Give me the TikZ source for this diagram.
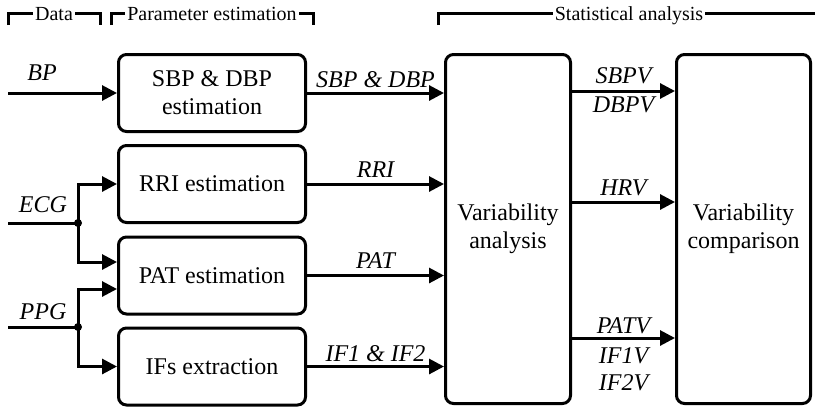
\documentclass[tikz,border=0pt]{standalone}
\usepackage{fontspec}
\setmainfont{Liberation Serif}
\usetikzlibrary{arrows.meta,calc}
\begin{document}
\begin{tikzpicture}[x=1pt,y=-1pt,
  box/.style={draw,line width=3pt,rounded corners=8pt,align=center,font=\fontsize{24}{28}\selectfont,inner sep=0pt},
  conn/.style={line width=3pt,-{Triangle[length=15pt,width=15pt]}},
  wire/.style={line width=3pt},
  lbl/.style={font=\fontsize{24}{27}\selectfont\itshape,inner sep=0pt},
  hdr/.style={font=\fontsize{20}{23}\selectfont,fill=white,inner sep=2pt,anchor=base},
  bracket/.style={line width=3pt},
  dot/.style={circle,fill,inner sep=0pt,minimum size=8pt}
]
\useasboundingbox (0,0) rectangle (815,408);

% headers
\draw[bracket] (8,25) -- (8,13.5) -- (100,13.5) -- (100,25);
\node[hdr] (hdata) at (54,20) {Data};
\draw[bracket] (111,25) -- (111,13.5) -- (313,13.5) -- (313,25);
\node[hdr] (hparam) at (212,20) {Parameter estimation};
\draw[bracket] (438,25) -- (438,13.5) -- (815,13.5);
\node[hdr] (hstat) at (629,20) {Statistical analysis};

% boxes
\node[box,minimum width=187pt,minimum height=77pt] (sbp) at (212,93) {SBP \& DBP\\estimation};
\node[box,minimum width=187pt,minimum height=77pt] (rri) at (212,184) {RRI estimation};
\node[box,minimum width=187pt,minimum height=77pt] (pat) at (212,275.5) {PAT estimation};
\node[box,minimum width=187pt,minimum height=77pt] (ifs) at (212,366.5) {IFs extraction};
\node[box,minimum width=125pt,minimum height=349pt] (va) at (508,229) {Variability\\analysis};
\node[box,minimum width=134pt,minimum height=349pt] (vc) at (743.5,229) {Variability\\comparison};

% inputs
\coordinate (bpin) at (8,93);
\coordinate (ecgin) at (8,223);
\coordinate (ppgin) at (8,327);
\node[dot] (ecgdot) at (78,223) {};
\node[dot] (ppgdot) at (78,327) {};

\node[lbl,anchor=base] (lbp) at (42,80.5) {BP};
\node[lbl,anchor=base] (lecg) at (43,212.5) {ECG};
\node[lbl,anchor=base] (lppg) at (43,319.5) {PPG};

\draw[conn] (bpin) -- (sbp.west);
\draw[wire] (ecgin) -- (ecgdot.center);
\draw[conn] (ecgdot.center) |- (rri.west);
\draw[conn] (ecgdot.center) |- ([yshift=13.5pt]pat.west);
\draw[wire] (ppgin) -- (ppgdot.center);
\draw[conn] (ppgdot.center) |- ([yshift=-13.5pt]pat.west);
\draw[conn] (ppgdot.center) |- (ifs.west);

% outputs of estimation
\draw[conn] (sbp.east) -- (sbp.east -| va.west) node[lbl,midway,anchor=base,yshift=6pt] {SBP \& DBP};
\draw[conn] (rri.east) -- (rri.east -| va.west) node[lbl,midway,anchor=base,yshift=7pt] {RRI};
\draw[conn] (pat.east) -- (pat.east -| va.west) node[lbl,midway,anchor=base,yshift=7pt] {PAT};
\draw[conn] (ifs.east) -- (ifs.east -| va.west) node[lbl,midway,anchor=base,yshift=5pt] {IF1 \& IF2};

% outputs of analysis
\draw[conn] (va.east |- 0,91) -- (vc.west |- 0,91)
  node[lbl,midway,anchor=base,yshift=8pt] {SBPV}
  node[lbl,midway,anchor=base,yshift=-21pt] {DBPV};
\draw[conn] (va.east |- 0,202) -- (vc.west |- 0,202)
  node[lbl,midway,anchor=base,yshift=7pt] {HRV};
\draw[conn] (va.east |- 0,338) -- (vc.west |- 0,338)
  node[lbl,midway,anchor=base,yshift=5pt] {PATV}
  node[lbl,midway,anchor=base,yshift=-25pt] {IF1V}
  node[lbl,midway,anchor=base,yshift=-52pt] {IF2V};
\end{tikzpicture}
\end{document}
